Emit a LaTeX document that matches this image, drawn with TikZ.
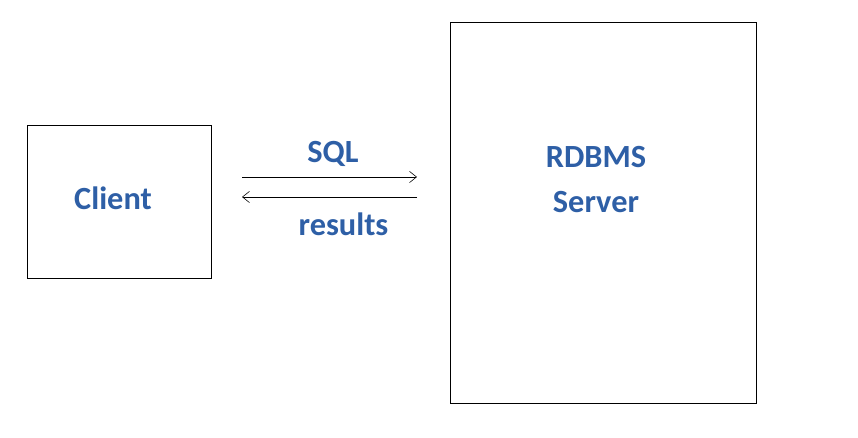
\documentclass[tikz,border=0pt]{standalone}
\usepackage{fontspec}
\setmainfont{Carlito}
\usetikzlibrary{calc, arrows.meta}
\tikzset{>={Straight Barb[length=5pt, width=8pt]}}
\definecolor{textblue}{RGB}{46,95,166}

\begin{document}
\begin{tikzpicture}[x = 0.025cm, y = -0.025cm]

    \useasboundingbox (0,0) rectangle (858,438);

    \node[draw, thin, minimum width = 184*0.025cm, minimum height = 153*0.025cm, anchor = north west, inner sep = 0pt] (client) at (27,125) {};
    \node[draw, thin, minimum width = 306*0.025cm, minimum height = 381*0.025cm, anchor = north west, inner sep = 0pt] (server) at (450,22) {};

    \node[text = textblue, font = \bfseries\fontsize{23}{26}\selectfont] (clientlabel) at (113,198) {Client};
    \node[text = textblue, font = \bfseries\fontsize{23}{26}\selectfont, align = center] (serverlabel) at (596,180) {RDBMS\\[6pt]Server};

    \coordinate (a) at (242,177);
    \coordinate (b) at (417,177);
    \coordinate (c) at (417,197);
    \coordinate (d) at (242,197);

    \draw[->, thin] (a) -- (b);
    \draw[->, thin] (c) -- (d);

    \node[text = textblue, font = \bfseries\fontsize{23}{26}\selectfont] (sql) at ($(a)!0.52!(b) + (0,-23)$) {SQL};
    \node[text = textblue, font = \bfseries\fontsize{23}{26}\selectfont] (results) at ($(d)!0.58!(c) + (0,27)$) {results};

\end{tikzpicture}
\end{document}
